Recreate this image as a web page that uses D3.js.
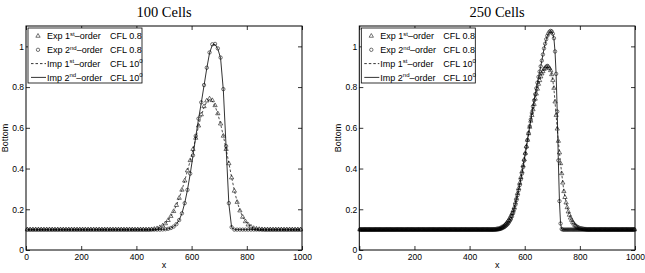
<!DOCTYPE html>
<html>
<head>
<meta charset="utf-8">
<script src="https://cdn.jsdelivr.net/npm/d3@7"></script>
<style>
  body { margin: 0; background: #fff; }
  svg { display: block; }
  .tick text { font-family: "Liberation Sans", Arial, sans-serif; font-size: 8.5px; fill: #000; }
  .tick line { stroke: #000; stroke-width: 0.8; }
</style>
</head>
<body>
<svg id="chart" width="645" height="273"></svg>
<script>
// axis ticks / labels
const xTicks = [0, 200, 400, 600, 800, 1000];
const yTicks = [0, 0.2, 0.4, 0.6, 0.8, 1];
const yTickLabels = ['0', '0.2', '0.4', '0.6', '0.8', '1'];
const titles = ['100 Cells', '250 Cells'];
const cellCounts = [100, 250];

// legend entries: [scheme, order, suffix, cfl, cflSup]
const legendNames = [
  ['Exp 1', 'st', '\u2013order', 'CFL 0.8', ''],
  ['Exp 2', 'nd', '\u2013order', 'CFL 0.8', ''],
  ['Imp 1', 'st', '\u2013order', 'CFL 10', '0'],
  ['Imp 2', 'nd', '\u2013order', 'CFL 10', '0']
];

// ---- 100 cells (rows of 10 cells, cell width 10) ----
const exp1_100 = [
  0.1, 0.1, 0.1, 0.1, 0.1, 0.1, 0.1, 0.1, 0.1, 0.1,
  0.1, 0.1, 0.1, 0.1, 0.1, 0.1, 0.1, 0.1, 0.1, 0.1,
  0.1, 0.1, 0.1, 0.1, 0.1, 0.1, 0.1, 0.1, 0.1, 0.1,
  0.1, 0.1, 0.1, 0.1, 0.1, 0.1, 0.1, 0.1, 0.1, 0.1,
  0.1, 0.1, 0.1, 0.1, 0.1, 0.101, 0.103, 0.106, 0.111, 0.119,
  0.13, 0.146, 0.166, 0.19, 0.22, 0.255, 0.295, 0.34, 0.39, 0.44,
  0.495, 0.55, 0.61, 0.665, 0.705, 0.733, 0.743, 0.735, 0.71, 0.67,
  0.62, 0.56, 0.495, 0.425, 0.355, 0.29, 0.235, 0.193, 0.162, 0.14,
  0.124, 0.114, 0.107, 0.104, 0.102, 0.101, 0.1, 0.1, 0.1, 0.1,
  0.1, 0.1, 0.1, 0.1, 0.1, 0.1, 0.1, 0.1, 0.1, 0.1
];
const exp2_100 = [
  0.1, 0.1, 0.1, 0.1, 0.1, 0.1, 0.1, 0.1, 0.1, 0.1,
  0.1, 0.1, 0.1, 0.1, 0.1, 0.1, 0.1, 0.1, 0.1, 0.1,
  0.1, 0.1, 0.1, 0.1, 0.1, 0.1, 0.1, 0.1, 0.1, 0.1,
  0.1, 0.1, 0.1, 0.1, 0.1, 0.1, 0.1, 0.1, 0.1, 0.1,
  0.1, 0.1, 0.1, 0.1, 0.1, 0.1, 0.1, 0.1, 0.1, 0.101,
  0.102, 0.104, 0.108, 0.115, 0.127, 0.147, 0.18, 0.23, 0.295, 0.375,
  0.465, 0.56, 0.645, 0.725, 0.81, 0.895, 0.97, 1.01, 1.012, 0.99,
  0.945, 0.79, 0.51, 0.23, 0.112, 0.1, 0.1, 0.1, 0.1, 0.1,
  0.1, 0.1, 0.1, 0.1, 0.1, 0.1, 0.1, 0.1, 0.1, 0.1,
  0.1, 0.1, 0.1, 0.1, 0.1, 0.1, 0.1, 0.1, 0.1, 0.1
];
const imp1_100 = [
  0.1, 0.1, 0.1, 0.1, 0.1, 0.1, 0.1, 0.1, 0.1, 0.1,
  0.1, 0.1, 0.1, 0.1, 0.1, 0.1, 0.1, 0.1, 0.1, 0.1,
  0.1, 0.1, 0.1, 0.1, 0.1, 0.1, 0.1, 0.1, 0.1, 0.1,
  0.1, 0.1, 0.1, 0.1, 0.1, 0.1, 0.1, 0.1, 0.1, 0.1,
  0.1, 0.1, 0.1, 0.1, 0.1, 0.101, 0.103, 0.106, 0.111, 0.119,
  0.13, 0.146, 0.166, 0.19, 0.22, 0.255, 0.295, 0.34, 0.389, 0.439,
  0.493, 0.548, 0.607, 0.66, 0.7, 0.728, 0.738, 0.731, 0.707, 0.668,
  0.619, 0.56, 0.496, 0.427, 0.357, 0.292, 0.237, 0.195, 0.163, 0.141,
  0.125, 0.114, 0.107, 0.104, 0.102, 0.101, 0.1, 0.1, 0.1, 0.1,
  0.1, 0.1, 0.1, 0.1, 0.1, 0.1, 0.1, 0.1, 0.1, 0.1
];
const imp2_100 = [
  0.1, 0.1, 0.1, 0.1, 0.1, 0.1, 0.1, 0.1, 0.1, 0.1,
  0.1, 0.1, 0.1, 0.1, 0.1, 0.1, 0.1, 0.1, 0.1, 0.1,
  0.1, 0.1, 0.1, 0.1, 0.1, 0.1, 0.1, 0.1, 0.1, 0.1,
  0.1, 0.1, 0.1, 0.1, 0.1, 0.1, 0.1, 0.1, 0.1, 0.1,
  0.1, 0.1, 0.1, 0.1, 0.1, 0.1, 0.1, 0.1, 0.1, 0.101,
  0.102, 0.104, 0.108, 0.115, 0.127, 0.147, 0.18, 0.23, 0.295, 0.374,
  0.462, 0.556, 0.642, 0.722, 0.807, 0.892, 0.967, 1.007, 1.01, 0.988,
  0.942, 0.785, 0.505, 0.226, 0.111, 0.1, 0.1, 0.1, 0.1, 0.1,
  0.1, 0.1, 0.1, 0.1, 0.1, 0.1, 0.1, 0.1, 0.1, 0.1,
  0.1, 0.1, 0.1, 0.1, 0.1, 0.1, 0.1, 0.1, 0.1, 0.1
];

// ---- 250 cells (rows of 10 cells, cell width 4) ----
const exp1_250 = [
  0.1, 0.1, 0.1, 0.1, 0.1, 0.1, 0.1, 0.1, 0.1, 0.1,
  0.1, 0.1, 0.1, 0.1, 0.1, 0.1, 0.1, 0.1, 0.1, 0.1,
  0.1, 0.1, 0.1, 0.1, 0.1, 0.1, 0.1, 0.1, 0.1, 0.1,
  0.1, 0.1, 0.1, 0.1, 0.1, 0.1, 0.1, 0.1, 0.1, 0.1,
  0.1, 0.1, 0.1, 0.1, 0.1, 0.1, 0.1, 0.1, 0.1, 0.1,
  0.1, 0.1, 0.1, 0.1, 0.1, 0.1, 0.1, 0.1, 0.1, 0.1,
  0.1, 0.1, 0.1, 0.1, 0.1, 0.1, 0.1, 0.1, 0.1, 0.1,
  0.1, 0.1, 0.1, 0.1, 0.1, 0.1, 0.1, 0.1, 0.1, 0.1,
  0.1, 0.1, 0.1, 0.1, 0.1, 0.1, 0.1, 0.1, 0.1, 0.1,
  0.1, 0.1, 0.1, 0.1, 0.1, 0.1, 0.1, 0.1, 0.1, 0.1,
  0.1, 0.1, 0.1, 0.1, 0.1, 0.1, 0.1, 0.1, 0.1, 0.1,
  0.1, 0.1, 0.1, 0.1, 0.1, 0.1, 0.1, 0.1, 0.1, 0.1,
  0.1, 0.1, 0.1, 0.101, 0.102, 0.103, 0.104, 0.106, 0.109, 0.112,
  0.115, 0.12, 0.125, 0.132, 0.139, 0.146, 0.157, 0.167, 0.18, 0.193,
  0.209, 0.232, 0.255, 0.279, 0.303, 0.329, 0.357, 0.385, 0.415, 0.445,
  0.476, 0.508, 0.54, 0.572, 0.604, 0.634, 0.662, 0.69, 0.716, 0.742,
  0.767, 0.791, 0.815, 0.833, 0.851, 0.866, 0.877, 0.888, 0.894, 0.9,
  0.902, 0.9, 0.892, 0.882, 0.862, 0.834, 0.795, 0.728, 0.662, 0.595,
  0.535, 0.478, 0.425, 0.376, 0.33, 0.288, 0.259, 0.232, 0.209, 0.188,
  0.172, 0.158, 0.147, 0.137, 0.129, 0.122, 0.117, 0.113, 0.11, 0.107,
  0.105, 0.104, 0.103, 0.102, 0.101, 0.101, 0.1, 0.1, 0.1, 0.1,
  0.1, 0.1, 0.1, 0.1, 0.1, 0.1, 0.1, 0.1, 0.1, 0.1,
  0.1, 0.1, 0.1, 0.1, 0.1, 0.1, 0.1, 0.1, 0.1, 0.1,
  0.1, 0.1, 0.1, 0.1, 0.1, 0.1, 0.1, 0.1, 0.1, 0.1,
  0.1, 0.1, 0.1, 0.1, 0.1, 0.1, 0.1, 0.1, 0.1, 0.1
];
const exp2_250 = [
  0.1, 0.1, 0.1, 0.1, 0.1, 0.1, 0.1, 0.1, 0.1, 0.1,
  0.1, 0.1, 0.1, 0.1, 0.1, 0.1, 0.1, 0.1, 0.1, 0.1,
  0.1, 0.1, 0.1, 0.1, 0.1, 0.1, 0.1, 0.1, 0.1, 0.1,
  0.1, 0.1, 0.1, 0.1, 0.1, 0.1, 0.1, 0.1, 0.1, 0.1,
  0.1, 0.1, 0.1, 0.1, 0.1, 0.1, 0.1, 0.1, 0.1, 0.1,
  0.1, 0.1, 0.1, 0.1, 0.1, 0.1, 0.1, 0.1, 0.1, 0.1,
  0.1, 0.1, 0.1, 0.1, 0.1, 0.1, 0.1, 0.1, 0.1, 0.1,
  0.1, 0.1, 0.1, 0.1, 0.1, 0.1, 0.1, 0.1, 0.1, 0.1,
  0.1, 0.1, 0.1, 0.1, 0.1, 0.1, 0.1, 0.1, 0.1, 0.1,
  0.1, 0.1, 0.1, 0.1, 0.1, 0.1, 0.1, 0.1, 0.1, 0.1,
  0.1, 0.1, 0.1, 0.1, 0.1, 0.1, 0.1, 0.1, 0.1, 0.1,
  0.1, 0.1, 0.1, 0.1, 0.1, 0.1, 0.1, 0.1, 0.1, 0.1,
  0.1, 0.1, 0.1, 0.1, 0.1, 0.101, 0.102, 0.103, 0.105, 0.107,
  0.11, 0.113, 0.117, 0.122, 0.127, 0.134, 0.143, 0.152, 0.166, 0.182,
  0.2, 0.222, 0.245, 0.269, 0.293, 0.319, 0.347, 0.375, 0.407, 0.439,
  0.472, 0.506, 0.54, 0.574, 0.608, 0.641, 0.673, 0.705, 0.735, 0.765,
  0.794, 0.822, 0.85, 0.876, 0.902, 0.93, 0.96, 0.99, 1.013, 1.035,
  1.052, 1.063, 1.072, 1.076, 1.073, 1.062, 1.04, 0.975, 0.865, 0.68,
  0.44, 0.24, 0.13, 0.103, 0.1, 0.1, 0.1, 0.1, 0.1, 0.1,
  0.1, 0.1, 0.1, 0.1, 0.1, 0.1, 0.1, 0.1, 0.1, 0.1,
  0.1, 0.1, 0.1, 0.1, 0.1, 0.1, 0.1, 0.1, 0.1, 0.1,
  0.1, 0.1, 0.1, 0.1, 0.1, 0.1, 0.1, 0.1, 0.1, 0.1,
  0.1, 0.1, 0.1, 0.1, 0.1, 0.1, 0.1, 0.1, 0.1, 0.1,
  0.1, 0.1, 0.1, 0.1, 0.1, 0.1, 0.1, 0.1, 0.1, 0.1,
  0.1, 0.1, 0.1, 0.1, 0.1, 0.1, 0.1, 0.1, 0.1, 0.1
];
const imp1_250 = [
  0.1, 0.1, 0.1, 0.1, 0.1, 0.1, 0.1, 0.1, 0.1, 0.1,
  0.1, 0.1, 0.1, 0.1, 0.1, 0.1, 0.1, 0.1, 0.1, 0.1,
  0.1, 0.1, 0.1, 0.1, 0.1, 0.1, 0.1, 0.1, 0.1, 0.1,
  0.1, 0.1, 0.1, 0.1, 0.1, 0.1, 0.1, 0.1, 0.1, 0.1,
  0.1, 0.1, 0.1, 0.1, 0.1, 0.1, 0.1, 0.1, 0.1, 0.1,
  0.1, 0.1, 0.1, 0.1, 0.1, 0.1, 0.1, 0.1, 0.1, 0.1,
  0.1, 0.1, 0.1, 0.1, 0.1, 0.1, 0.1, 0.1, 0.1, 0.1,
  0.1, 0.1, 0.1, 0.1, 0.1, 0.1, 0.1, 0.1, 0.1, 0.1,
  0.1, 0.1, 0.1, 0.1, 0.1, 0.1, 0.1, 0.1, 0.1, 0.1,
  0.1, 0.1, 0.1, 0.1, 0.1, 0.1, 0.1, 0.1, 0.1, 0.1,
  0.1, 0.1, 0.1, 0.1, 0.1, 0.1, 0.1, 0.1, 0.1, 0.1,
  0.1, 0.1, 0.1, 0.1, 0.1, 0.1, 0.1, 0.1, 0.1, 0.1,
  0.1, 0.1, 0.1, 0.101, 0.102, 0.103, 0.104, 0.106, 0.109, 0.112,
  0.115, 0.12, 0.125, 0.132, 0.139, 0.146, 0.157, 0.167, 0.18, 0.193,
  0.209, 0.232, 0.255, 0.279, 0.303, 0.329, 0.357, 0.385, 0.415, 0.445,
  0.476, 0.508, 0.54, 0.572, 0.603, 0.633, 0.661, 0.688, 0.714, 0.74,
  0.765, 0.789, 0.812, 0.831, 0.849, 0.864, 0.875, 0.885, 0.892, 0.897,
  0.899, 0.897, 0.89, 0.879, 0.86, 0.831, 0.79, 0.725, 0.66, 0.594,
  0.535, 0.479, 0.426, 0.377, 0.331, 0.289, 0.26, 0.233, 0.21, 0.189,
  0.173, 0.159, 0.148, 0.138, 0.13, 0.123, 0.118, 0.114, 0.11, 0.107,
  0.105, 0.104, 0.103, 0.102, 0.101, 0.101, 0.1, 0.1, 0.1, 0.1,
  0.1, 0.1, 0.1, 0.1, 0.1, 0.1, 0.1, 0.1, 0.1, 0.1,
  0.1, 0.1, 0.1, 0.1, 0.1, 0.1, 0.1, 0.1, 0.1, 0.1,
  0.1, 0.1, 0.1, 0.1, 0.1, 0.1, 0.1, 0.1, 0.1, 0.1,
  0.1, 0.1, 0.1, 0.1, 0.1, 0.1, 0.1, 0.1, 0.1, 0.1
];
const imp2_250 = [
  0.1, 0.1, 0.1, 0.1, 0.1, 0.1, 0.1, 0.1, 0.1, 0.1,
  0.1, 0.1, 0.1, 0.1, 0.1, 0.1, 0.1, 0.1, 0.1, 0.1,
  0.1, 0.1, 0.1, 0.1, 0.1, 0.1, 0.1, 0.1, 0.1, 0.1,
  0.1, 0.1, 0.1, 0.1, 0.1, 0.1, 0.1, 0.1, 0.1, 0.1,
  0.1, 0.1, 0.1, 0.1, 0.1, 0.1, 0.1, 0.1, 0.1, 0.1,
  0.1, 0.1, 0.1, 0.1, 0.1, 0.1, 0.1, 0.1, 0.1, 0.1,
  0.1, 0.1, 0.1, 0.1, 0.1, 0.1, 0.1, 0.1, 0.1, 0.1,
  0.1, 0.1, 0.1, 0.1, 0.1, 0.1, 0.1, 0.1, 0.1, 0.1,
  0.1, 0.1, 0.1, 0.1, 0.1, 0.1, 0.1, 0.1, 0.1, 0.1,
  0.1, 0.1, 0.1, 0.1, 0.1, 0.1, 0.1, 0.1, 0.1, 0.1,
  0.1, 0.1, 0.1, 0.1, 0.1, 0.1, 0.1, 0.1, 0.1, 0.1,
  0.1, 0.1, 0.1, 0.1, 0.1, 0.1, 0.1, 0.1, 0.1, 0.1,
  0.1, 0.1, 0.1, 0.1, 0.1, 0.101, 0.102, 0.103, 0.105, 0.107,
  0.11, 0.113, 0.117, 0.122, 0.127, 0.134, 0.143, 0.152, 0.166, 0.182,
  0.2, 0.222, 0.245, 0.269, 0.293, 0.319, 0.347, 0.375, 0.406, 0.438,
  0.471, 0.505, 0.539, 0.573, 0.607, 0.64, 0.672, 0.704, 0.734, 0.764,
  0.793, 0.821, 0.849, 0.875, 0.901, 0.929, 0.959, 0.988, 1.011, 1.033,
  1.05, 1.062, 1.07, 1.074, 1.071, 1.06, 1.038, 0.972, 0.86, 0.675,
  0.435, 0.238, 0.13, 0.103, 0.1, 0.1, 0.1, 0.1, 0.1, 0.1,
  0.1, 0.1, 0.1, 0.1, 0.1, 0.1, 0.1, 0.1, 0.1, 0.1,
  0.1, 0.1, 0.1, 0.1, 0.1, 0.1, 0.1, 0.1, 0.1, 0.1,
  0.1, 0.1, 0.1, 0.1, 0.1, 0.1, 0.1, 0.1, 0.1, 0.1,
  0.1, 0.1, 0.1, 0.1, 0.1, 0.1, 0.1, 0.1, 0.1, 0.1,
  0.1, 0.1, 0.1, 0.1, 0.1, 0.1, 0.1, 0.1, 0.1, 0.1,
  0.1, 0.1, 0.1, 0.1, 0.1, 0.1, 0.1, 0.1, 0.1, 0.1
];

const svg = d3.select('#chart');
const plotTop = 26, plotBottom = 250;
const font = '"Liberation Sans", Arial, sans-serif';
const tri = d3.symbol(d3.symbolTriangle, 8);

const panels = [
  { x0: 26, x1: 302, n: cellCounts[0], title: titles[0], series: [exp1_100, exp2_100, imp1_100, imp2_100] },
  { x0: 359.3, x1: 635, n: cellCounts[1], title: titles[1], series: [exp1_250, exp2_250, imp1_250, imp2_250] }
];

panels.forEach(drawPanel);

function drawPanel(p) {
  const x = d3.scaleLinear().domain([0, 1000]).range([p.x0, p.x1]);
  const y = d3.scaleLinear().domain([0, 1.1]).range([plotBottom, plotTop]);
  const cells = d3.range(p.n).map(i => (i + 0.5) * 1000 / p.n);
  const g = svg.append('g');
  const cx = (p.x0 + p.x1) / 2;

  // ticks on all four sides, pointing inward
  g.append('g').attr('transform', `translate(0,${plotBottom})`)
    .call(d3.axisBottom(x).tickValues(xTicks).tickSize(-4).tickPadding(3.5).tickFormat(d3.format('d')));
  g.append('g').attr('transform', `translate(0,${plotTop})`)
    .call(d3.axisTop(x).tickValues(xTicks).tickSize(-4).tickFormat(''));
  g.append('g').attr('transform', `translate(${p.x0},0)`)
    .call(d3.axisLeft(y).tickValues(yTicks).tickSize(-4).tickPadding(2).tickFormat((d, i) => yTickLabels[i]));
  g.append('g').attr('transform', `translate(${p.x1},0)`)
    .call(d3.axisRight(y).tickValues(yTicks).tickSize(-4).tickFormat(''));
  g.selectAll('.domain').remove();

  // frame
  g.append('rect')
    .attr('x', p.x0).attr('y', plotTop)
    .attr('width', p.x1 - p.x0).attr('height', plotBottom - plotTop)
    .attr('fill', 'none').attr('stroke', '#000').attr('stroke-width', 1);

  const [e1, e2, i1, i2] = p.series;
  const line = d3.line().x((d, i) => x(cells[i])).y(d => y(d));

  // Exp 1st-order: triangles
  g.append('g').selectAll('path').data(e1).enter().append('path')
    .attr('d', tri)
    .attr('transform', (d, i) => `translate(${x(cells[i])},${y(d)})`)
    .attr('fill', 'none').attr('stroke', '#000').attr('stroke-width', 0.55);
  // Exp 2nd-order: circles
  g.append('g').selectAll('circle').data(e2).enter().append('circle')
    .attr('cx', (d, i) => x(cells[i])).attr('cy', d => y(d)).attr('r', 1.7)
    .attr('fill', 'none').attr('stroke', '#000').attr('stroke-width', 0.55);
  // Imp 1st-order: dashed
  g.append('path').datum(i1).attr('d', line)
    .attr('fill', 'none').attr('stroke', '#000').attr('stroke-width', 0.7).attr('stroke-dasharray', '2.5,2');
  // Imp 2nd-order: solid
  g.append('path').datum(i2).attr('d', line)
    .attr('fill', 'none').attr('stroke', '#000').attr('stroke-width', 0.8);

  // title + axis labels
  g.append('text').attr('x', cx).attr('y', 16.5).attr('text-anchor', 'middle')
    .style('font-family', '"Liberation Serif", "Times New Roman", serif').style('font-size', '14.5px')
    .text(p.title);
  g.append('text').attr('x', cx).attr('y', 268).attr('text-anchor', 'middle')
    .style('font-family', font).style('font-size', '9px').text('x');
  g.append('text').attr('transform', `translate(${p.x0 - 18},${(plotTop + plotBottom) / 2}) rotate(-90)`)
    .attr('text-anchor', 'middle')
    .style('font-family', font).style('font-size', '9px').text('Bottom');

  // legend
  const lx = p.x0 + 2, ly = 28;
  const lg = g.append('g');
  lg.append('rect').attr('x', lx).attr('y', ly).attr('width', 114).attr('height', 55)
    .attr('fill', '#fff').attr('stroke', '#000').attr('stroke-width', 0.8);
  legendNames.forEach((nm, k) => {
    const ry = ly + 8 + k * 13.8;
    if (k === 0) {
      lg.append('path').attr('d', tri).attr('transform', `translate(${lx + 10},${ry})`)
        .attr('fill', 'none').attr('stroke', '#000').attr('stroke-width', 0.55);
    } else if (k === 1) {
      lg.append('circle').attr('cx', lx + 10).attr('cy', ry).attr('r', 1.7)
        .attr('fill', 'none').attr('stroke', '#000').attr('stroke-width', 0.55);
    } else {
      lg.append('line').attr('x1', lx + 3).attr('x2', lx + 18).attr('y1', ry).attr('y2', ry)
        .attr('stroke', '#000').attr('stroke-width', 0.8)
        .attr('stroke-dasharray', k === 2 ? '2.5,2' : null);
    }
    const t = lg.append('text').attr('x', lx + 19).attr('y', ry + 3.2)
      .style('font-family', font).style('font-size', '9px');
    t.append('tspan').text(nm[0]);
    t.append('tspan').attr('dy', -3.5).style('font-size', '6px').text(nm[1]);
    t.append('tspan').attr('dy', 3.5).text(nm[2]);
    const c = lg.append('text').attr('x', lx + 82).attr('y', ry + 3.2)
      .style('font-family', font).style('font-size', '9px');
    c.append('tspan').text(nm[3]);
    if (nm[4]) c.append('tspan').attr('dy', -3.5).style('font-size', '6px').text(nm[4]);
  });
}
</script>
</body>
</html>
